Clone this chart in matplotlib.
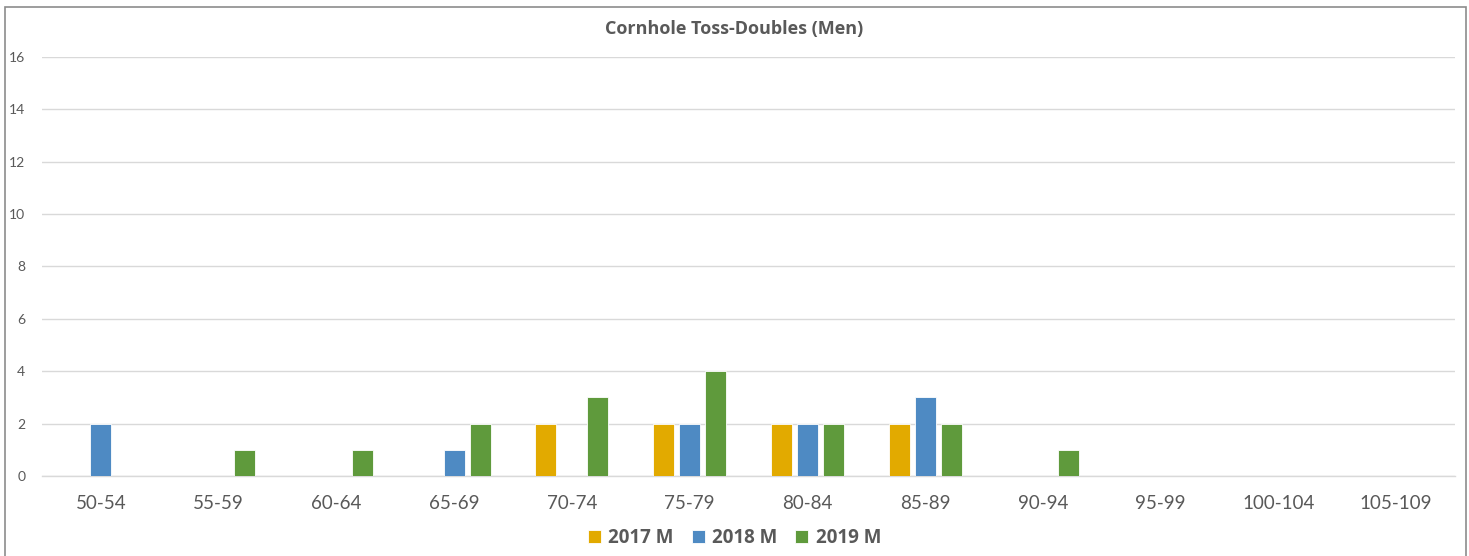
import numpy as np
import matplotlib.pyplot as plt
from matplotlib.patches import Rectangle

categories = ['50-54', '55-59', '60-64', '65-69', '70-74', '75-79',
              '80-84', '85-89', '90-94', '95-99', '100-104', '105-109']
men_2017 = [0, 0, 0, 0, 2, 2, 2, 2, 0, 0, 0, 0]
men_2018 = [2, 0, 0, 1, 0, 2, 2, 3, 0, 0, 0, 0]
men_2019 = [0, 1, 1, 2, 3, 4, 2, 2, 1, 0, 0, 0]
series_labels = ['2017 M', '2018 M', '2019 M']

plt.rcParams['font.family'] = ['Lato', 'DejaVu Sans']
text_grey = '#595959'
colors = ['#E2AA00', '#4E8AC3', '#5F9A3C']

fig = plt.figure(figsize=(14.69, 5.56), dpi=100)
ax = fig.add_axes([0.0286, 0.1439, 0.9619, 0.7536])

x = np.arange(len(categories))
width = 0.178
step = 0.221
for i, (vals, lab, col) in enumerate(zip([men_2017, men_2018, men_2019], series_labels, colors)):
    ax.bar(x + (i - 1) * step, vals, width, label=lab, color=col,
           edgecolor='white', linewidth=0.6, zorder=3)

ax.set_xlim(-0.5, len(categories) - 0.5)
ax.set_ylim(0, 16)
ax.set_yticks(range(0, 17, 2))
ax.set_xticks(x)
ax.set_xticklabels(categories)
ax.tick_params(axis='x', length=0, labelsize=13.5, colors=text_grey, pad=14)
ax.tick_params(axis='y', length=0, labelsize=10, colors=text_grey, pad=12)
ax.yaxis.grid(True, color='#D9D9D9', linewidth=1, zorder=0)
for s in ['top', 'right', 'left']:
    ax.spines[s].set_visible(False)
ax.spines['bottom'].set_color('#D9D9D9')
ax.spines['bottom'].set_linewidth(1)

fig.text(0.5, 0.947, 'Cornhole Toss-Doubles (Men)', ha='center', va='center',
         fontsize=13, fontweight='bold', color=text_grey, family='Open Sans')

leg = fig.legend(loc='center', bbox_to_anchor=(0.5, 0.032), ncol=3, frameon=False,
                 handlelength=0.7, handleheight=0.7, handletextpad=0.4,
                 columnspacing=0.95,
                 prop={'size': 13.5, 'weight': 'bold', 'family': 'Open Sans'})
for t in leg.get_texts():
    t.set_color(text_grey)

fig.patches.append(Rectangle((0.0034, -0.01), 0.9946, 0.998, transform=fig.transFigure,
                             fill=False, edgecolor='#8C8C8C', linewidth=1.2))

fig.savefig('out.png', dpi=100)
